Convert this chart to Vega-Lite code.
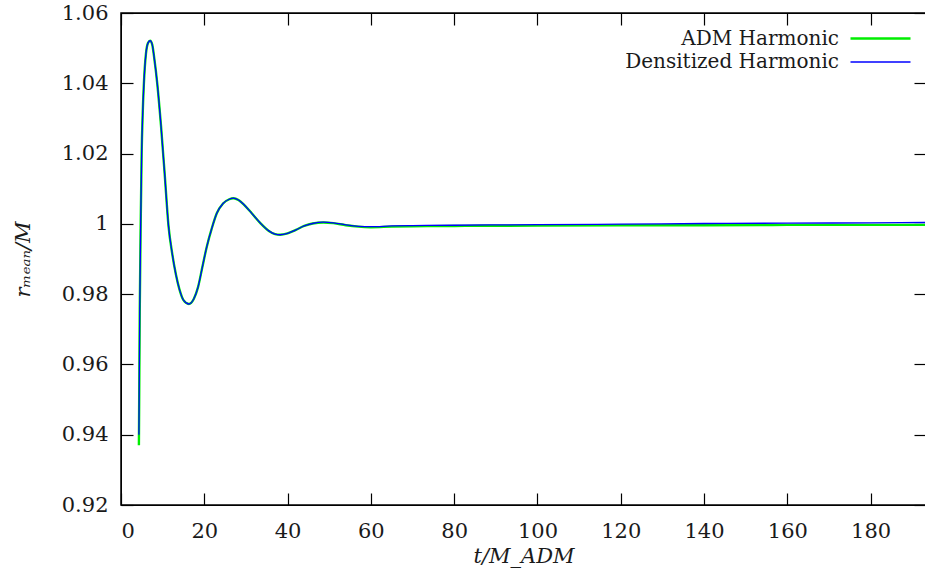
{
  "$schema": "https://vega.github.io/schema/vega-lite/v6.json",
  "width": 805,
  "height": 492,
  "autosize": {"type": "none"},
  "padding": {"left": 121, "top": 13, "right": 0, "bottom": 73},
  "background": "white",
  "config": {
    "view": {"stroke": "black", "strokeWidth": 1.5},
    "font": "DejaVu Serif",
    "axis": {
      "labelFont": "DejaVu Serif",
      "titleFont": "DejaVu Serif",
      "labelFontSize": 21,
      "titleFontSize": 21,
      "titleFontWeight": "normal",
      "labelColor": "#1a1a1a",
      "titleColor": "#1a1a1a",
      "tickColor": "black",
      "domainColor": "black",
      "tickSize": -12,
      "tickWidth": 1.2,
      "grid": false
    }
  },
  "datasets": {
    "curves": [
      {"t": 4.3, "r": 0.937, "s": "ADM Harmonic"},
      {"t": 4.5, "r": 0.975, "s": "ADM Harmonic"},
      {"t": 4.75, "r": 1.002, "s": "ADM Harmonic"},
      {"t": 4.96, "r": 1.020, "s": "ADM Harmonic"},
      {"t": 5.2, "r": 1.031, "s": "ADM Harmonic"},
      {"t": 5.5, "r": 1.040, "s": "ADM Harmonic"},
      {"t": 6.0, "r": 1.0485, "s": "ADM Harmonic"},
      {"t": 6.5, "r": 1.0515, "s": "ADM Harmonic"},
      {"t": 7.0, "r": 1.0521, "s": "ADM Harmonic"},
      {"t": 7.5, "r": 1.051, "s": "ADM Harmonic"},
      {"t": 8.0, "r": 1.047, "s": "ADM Harmonic"},
      {"t": 8.7, "r": 1.040, "s": "ADM Harmonic"},
      {"t": 9.6, "r": 1.028, "s": "ADM Harmonic"},
      {"t": 10.5, "r": 1.014, "s": "ADM Harmonic"},
      {"t": 11.4, "r": 0.9995, "s": "ADM Harmonic"},
      {"t": 12.3, "r": 0.9915, "s": "ADM Harmonic"},
      {"t": 13.2, "r": 0.9855, "s": "ADM Harmonic"},
      {"t": 14.0, "r": 0.9815, "s": "ADM Harmonic"},
      {"t": 15.0, "r": 0.9783, "s": "ADM Harmonic"},
      {"t": 16.3, "r": 0.9772, "s": "ADM Harmonic"},
      {"t": 17.5, "r": 0.9787, "s": "ADM Harmonic"},
      {"t": 18.5, "r": 0.982, "s": "ADM Harmonic"},
      {"t": 19.5, "r": 0.9875, "s": "ADM Harmonic"},
      {"t": 20.6, "r": 0.9935, "s": "ADM Harmonic"},
      {"t": 21.8, "r": 0.9987, "s": "ADM Harmonic"},
      {"t": 23.0, "r": 1.003, "s": "ADM Harmonic"},
      {"t": 24.5, "r": 1.0058, "s": "ADM Harmonic"},
      {"t": 26.0, "r": 1.0070, "s": "ADM Harmonic"},
      {"t": 27.0, "r": 1.0073, "s": "ADM Harmonic"},
      {"t": 28.2, "r": 1.0068, "s": "ADM Harmonic"},
      {"t": 29.5, "r": 1.0055, "s": "ADM Harmonic"},
      {"t": 31.4, "r": 1.0030, "s": "ADM Harmonic"},
      {"t": 33.4, "r": 1.0003, "s": "ADM Harmonic"},
      {"t": 35.5, "r": 0.9980, "s": "ADM Harmonic"},
      {"t": 37.0, "r": 0.9971, "s": "ADM Harmonic"},
      {"t": 38.2, "r": 0.9969, "s": "ADM Harmonic"},
      {"t": 40.0, "r": 0.9973, "s": "ADM Harmonic"},
      {"t": 42.0, "r": 0.9983, "s": "ADM Harmonic"},
      {"t": 44.0, "r": 0.9994, "s": "ADM Harmonic"},
      {"t": 46.0, "r": 1.0001, "s": "ADM Harmonic"},
      {"t": 48.6, "r": 1.0004, "s": "ADM Harmonic"},
      {"t": 51.0, "r": 1.0002, "s": "ADM Harmonic"},
      {"t": 54.0, "r": 0.9996, "s": "ADM Harmonic"},
      {"t": 57.0, "r": 0.9992, "s": "ADM Harmonic"},
      {"t": 60.0, "r": 0.99905, "s": "ADM Harmonic"},
      {"t": 65.0, "r": 0.9992, "s": "ADM Harmonic"},
      {"t": 70.0, "r": 0.9993, "s": "ADM Harmonic"},
      {"t": 80.0, "r": 0.9994, "s": "ADM Harmonic"},
      {"t": 100.0, "r": 0.9995, "s": "ADM Harmonic"},
      {"t": 120.0, "r": 0.9996, "s": "ADM Harmonic"},
      {"t": 140.0, "r": 0.9996, "s": "ADM Harmonic"},
      {"t": 160.0, "r": 0.9997, "s": "ADM Harmonic"},
      {"t": 180.0, "r": 0.9997, "s": "ADM Harmonic"},
      {"t": 194.0, "r": 0.9997, "s": "ADM Harmonic"},
      {"t": 4.3, "r": 0.940, "s": "Densitized Harmonic"},
      {"t": 4.5, "r": 0.975, "s": "Densitized Harmonic"},
      {"t": 4.75, "r": 1.002, "s": "Densitized Harmonic"},
      {"t": 4.96, "r": 1.020, "s": "Densitized Harmonic"},
      {"t": 5.2, "r": 1.031, "s": "Densitized Harmonic"},
      {"t": 5.5, "r": 1.040, "s": "Densitized Harmonic"},
      {"t": 6.0, "r": 1.0485, "s": "Densitized Harmonic"},
      {"t": 6.5, "r": 1.0515, "s": "Densitized Harmonic"},
      {"t": 7.0, "r": 1.0521, "s": "Densitized Harmonic"},
      {"t": 7.5, "r": 1.051, "s": "Densitized Harmonic"},
      {"t": 8.0, "r": 1.047, "s": "Densitized Harmonic"},
      {"t": 8.7, "r": 1.040, "s": "Densitized Harmonic"},
      {"t": 9.6, "r": 1.028, "s": "Densitized Harmonic"},
      {"t": 10.5, "r": 1.014, "s": "Densitized Harmonic"},
      {"t": 11.4, "r": 0.9995, "s": "Densitized Harmonic"},
      {"t": 12.3, "r": 0.9915, "s": "Densitized Harmonic"},
      {"t": 13.2, "r": 0.9855, "s": "Densitized Harmonic"},
      {"t": 14.0, "r": 0.9815, "s": "Densitized Harmonic"},
      {"t": 15.0, "r": 0.9783, "s": "Densitized Harmonic"},
      {"t": 16.3, "r": 0.9772, "s": "Densitized Harmonic"},
      {"t": 17.5, "r": 0.9787, "s": "Densitized Harmonic"},
      {"t": 18.5, "r": 0.982, "s": "Densitized Harmonic"},
      {"t": 19.5, "r": 0.9875, "s": "Densitized Harmonic"},
      {"t": 20.6, "r": 0.9935, "s": "Densitized Harmonic"},
      {"t": 21.8, "r": 0.9987, "s": "Densitized Harmonic"},
      {"t": 23.0, "r": 1.003, "s": "Densitized Harmonic"},
      {"t": 24.5, "r": 1.0058, "s": "Densitized Harmonic"},
      {"t": 26.0, "r": 1.0070, "s": "Densitized Harmonic"},
      {"t": 27.0, "r": 1.0073, "s": "Densitized Harmonic"},
      {"t": 28.2, "r": 1.0068, "s": "Densitized Harmonic"},
      {"t": 29.5, "r": 1.0055, "s": "Densitized Harmonic"},
      {"t": 31.4, "r": 1.0030, "s": "Densitized Harmonic"},
      {"t": 33.4, "r": 1.0003, "s": "Densitized Harmonic"},
      {"t": 35.5, "r": 0.9980, "s": "Densitized Harmonic"},
      {"t": 37.0, "r": 0.9971, "s": "Densitized Harmonic"},
      {"t": 38.2, "r": 0.9969, "s": "Densitized Harmonic"},
      {"t": 40.0, "r": 0.9973, "s": "Densitized Harmonic"},
      {"t": 42.0, "r": 0.9983, "s": "Densitized Harmonic"},
      {"t": 44.0, "r": 0.9994, "s": "Densitized Harmonic"},
      {"t": 46.0, "r": 1.0001, "s": "Densitized Harmonic"},
      {"t": 48.6, "r": 1.0005, "s": "Densitized Harmonic"},
      {"t": 51.0, "r": 1.0003, "s": "Densitized Harmonic"},
      {"t": 54.0, "r": 0.9997, "s": "Densitized Harmonic"},
      {"t": 57.0, "r": 0.9993, "s": "Densitized Harmonic"},
      {"t": 60.0, "r": 0.9992, "s": "Densitized Harmonic"},
      {"t": 65.0, "r": 0.9994, "s": "Densitized Harmonic"},
      {"t": 70.0, "r": 0.9995, "s": "Densitized Harmonic"},
      {"t": 80.0, "r": 0.9996, "s": "Densitized Harmonic"},
      {"t": 100.0, "r": 0.9998, "s": "Densitized Harmonic"},
      {"t": 120.0, "r": 0.9999, "s": "Densitized Harmonic"},
      {"t": 140.0, "r": 1.0001, "s": "Densitized Harmonic"},
      {"t": 160.0, "r": 1.0002, "s": "Densitized Harmonic"},
      {"t": 180.0, "r": 1.0003, "s": "Densitized Harmonic"},
      {"t": 194.0, "r": 1.0004, "s": "Densitized Harmonic"}
    ]
  },
  "data": {"name": "curves"},
  "layer": [
    {
      "mark": {"type": "line", "interpolate": "monotone", "clip": true},
      "encoding": {
        "x": {
          "field": "t", "type": "quantitative",
          "scale": {"domain": [0, 193.3], "nice": false, "zero": false},
          "axis": {"values": [0, 20, 40, 60, 80, 100, 120, 140, 160, 180], "title": "t/M_ADM", "titleFontStyle": "italic", "labelPadding": 27, "titlePadding": 4}
        },
        "y": {
          "field": "r", "type": "quantitative",
          "scale": {"domain": [0.92, 1.06], "nice": false, "zero": false},
          "axis": {"values": [0.92, 0.94, 0.96, 0.98, 1.0, 1.02, 1.04, 1.06], "format": ".2~f", "title": "rₘₑₐₙ/M", "titleFontStyle": "italic", "labelPadding": 25, "titlePadding": 28}
        },
        "color": {
          "field": "s", "type": "nominal", "sort": ["ADM Harmonic", "Densitized Harmonic"],
          "scale": {"domain": ["ADM Harmonic", "Densitized Harmonic"], "range": ["#00ee00", "#0000ff"]},
          "legend": {
            "title": null, "orient": "none", "legendX": 748, "legendY": 14,
            "padding": 0, "symbolType": "M-3,0H3", "symbolSize": 400,
            "symbolOffset": 0, "labelAlign": "right", "labelOffset": -53,
            "labelFont": "DejaVu Serif", "labelFontSize": 20, "labelColor": "#1a1a1a",
            "rowPadding": 2, "labelLimit": 400,
            "encode": {
              "symbols": {
                "update": {
                  "strokeWidth": {"signal": "datum.value === 'ADM Harmonic' ? 2.6 : 1.4"},
                  "fill": {"value": "transparent"}
                }
              }
            }
          }
        },
        "strokeWidth": {
          "field": "s", "type": "nominal",
          "scale": {"domain": ["ADM Harmonic", "Densitized Harmonic"], "range": [2.4, 1.3]},
          "legend": null
        }
      }
    },
    {
      "mark": {"type": "line", "opacity": 0},
      "encoding": {
        "x": {
          "field": "t", "type": "quantitative",
          "scale": {"domain": [0, 193.3], "nice": false, "zero": false},
          "axis": {"orient": "top", "values": [0, 20, 40, 60, 80, 100, 120, 140, 160, 180], "labels": false, "title": null}
        },
        "y": {
          "field": "r", "type": "quantitative",
          "scale": {"domain": [0.92, 1.06], "nice": false, "zero": false},
          "axis": {"orient": "right", "values": [0.92, 0.94, 0.96, 0.98, 1.0, 1.02, 1.04, 1.06], "labels": false, "title": null}
        },
        "detail": {"field": "s"}
      }
    }
  ],
  "resolve": {"scale": {"x": "independent", "y": "independent"}, "axis": {"x": "independent", "y": "independent"}}
}
